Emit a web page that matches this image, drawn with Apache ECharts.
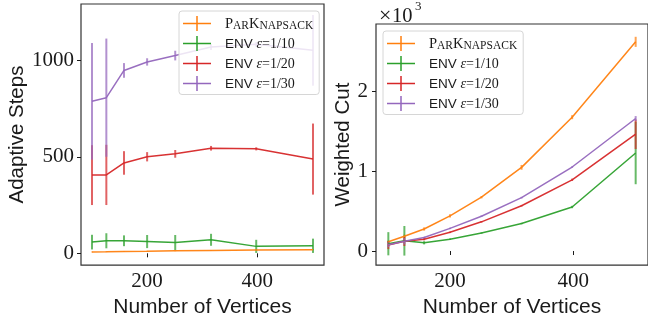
<!DOCTYPE html>
<html>
<head>
<meta charset="utf-8">
<script src="https://cdn.jsdelivr.net/npm/echarts@6/dist/echarts.min.js"></script>
<style>
html,body{margin:0;padding:0;background:#fff;}
#chart{width:648px;height:323px;}
</style>
</head>
<body>
<div id="chart"></div>
<script>
// ---- data ----
const xVals = [100, 126, 158, 200, 251, 316, 398, 501];
const seriesNames = ['ParKnapsack', 'ENV ε=1/10', 'ENV ε=1/20', 'ENV ε=1/30'];
const seriesColors = ['#ff7f0e', '#2ca02c', '#d62728', '#9467bd'];

// Adaptive Steps (left panel)
const stepsPark    = [7, 8, 10, 11, 13, 15, 17, 19];
const stepsParkErr = [2, 2, 2, 2, 2, 2, 2, 2];
const steps10      = [58, 65, 65, 61, 56, 70, 36, 39];
const steps10Err   = [38, 39, 28, 34, 39, 31, 34, 37];
const steps20      = [405, 406, 468, 500, 515, 544, 541, 488];
const steps20Err   = [155, 156, 61, 24, 20, 12, 8, 184];
const steps30      = [787, 806, 947, 991, 1024, 1068, 1082, 1051];
const steps30Err   = [302, 306, 38, 19, 25, 15, 12, 183];

// Weighted Cut (right panel)
const cutPark    = [116, 185, 275, 439, 673, 1046, 1673, 2615];
const cutParkErr = [15, 20, 20, 20, 15, 30, 25, 63];
const cut10      = [91, 128, 103, 148, 226, 344, 550, 1226];
const cut10Err   = [145, 185, 20, 10, 10, 10, 15, 391];
const cut20      = [74, 123, 148, 234, 365, 566, 890, 1460];
const cut20Err   = [50, 60, 15, 10, 10, 10, 15, 185];
const cut30      = [79, 123, 169, 283, 435, 667, 1050, 1657];
const cut30Err   = [30, 40, 10, 10, 10, 10, 10, 30];

// ticks
const xTicks = [200, 400];
const stepsTicks = [0, 500, 1000];
const cutTicks = [0, 1000, 2000];

// ---- styling ----
const TXT = '#1a1a1a';
const SERIF = 'Liberation Serif';
const SANS = 'Liberation Sans';

const leftVals = [[stepsPark, stepsParkErr], [steps10, steps10Err], [steps20, steps20Err], [steps30, steps30Err]];
const rightVals = [[cutPark, cutParkErr], [cut10, cut10Err], [cut20, cut20Err], [cut30, cut30Err]];

function errRenderer(color) {
  return function (params, api) {
    const x = api.value(0), lo = api.value(1), hi = api.value(2);
    const p1 = api.coord([x, lo]);
    const p2 = api.coord([x, hi]);
    return {
      type: 'line',
      shape: { x1: p1[0], y1: p1[1], x2: p2[0], y2: p2[1] },
      style: { stroke: color, lineWidth: 2, opacity: 0.72 }
    };
  };
}

const series = [];
function addPanel(vals, idx) {
  vals.forEach(function (pair, k) {
    const v = pair[0], e = pair[1];
    series.push({
      type: 'line', name: seriesNames[k],
      xAxisIndex: idx, yAxisIndex: idx,
      data: xVals.map(function (x, i) { return [x, v[i]]; }),
      symbol: 'none',
      lineStyle: { color: seriesColors[k], width: 1.5, opacity: 0.95 },
      itemStyle: { color: seriesColors[k] },
      animation: false
    });
    series.push({
      type: 'custom', name: 'err' + idx + '_' + k,
      xAxisIndex: idx, yAxisIndex: idx,
      data: xVals.map(function (x, i) { return [x, v[i] - e[i], v[i] + e[i]]; }),
      encode: { x: 0, y: [1, 2] },
      renderItem: errRenderer(seriesColors[k]),
      clip: true,
      animation: false
    });
  });
}
addPanel(leftVals, 0);
addPanel(rightVals, 1);

const legendRich = {
  g: { width: 9 },
  big: { fontFamily: SERIF, fontSize: 14.5, color: TXT, lineHeight: 16, verticalAlign: 'bottom' },
  sm: { fontFamily: SERIF, fontSize: 11.5, color: TXT, lineHeight: 14, verticalAlign: 'bottom' },
  sans: { fontFamily: SANS, fontSize: 13.5, color: TXT, lineHeight: 16, verticalAlign: 'bottom' },
  eps: { fontFamily: SERIF, fontSize: 14, fontStyle: 'italic', color: TXT, lineHeight: 16, verticalAlign: 'bottom' },
  num: { fontFamily: SERIF, fontSize: 14, color: TXT, lineHeight: 16, verticalAlign: 'bottom' }
};
function legendFormatter(name) {
  if (name === 'ParKnapsack') {
    return '{g|}{big|P}{sm|AR}{big|K}{sm|NAPSACK}';
  }
  const frac = name.split('=')[1];
  return '{g|}{sans|ENV }{eps|ε}{num|=' + frac + '}';
}
const legendIcon = 'path://M0,6.75 H28 V8.25 H0 Z M13.25,0 H14.75 V15 H13.25 Z';
function makeLegend(left, top) {
  return {
    data: seriesNames.slice(),
    orient: 'vertical',
    left: left, top: top,
    icon: legendIcon,
    itemWidth: 28, itemHeight: 15,
    itemGap: 4.5,
    padding: [5, 6, 3, 4],
    backgroundColor: 'rgba(255,255,255,0.82)',
    borderColor: '#d6d6d6', borderWidth: 1, borderRadius: 3,
    selectedMode: false,
    formatter: legendFormatter,
    textStyle: { rich: legendRich }
  };
}

function xAxisDef(idx) {
  return {
    gridIndex: idx, type: 'value', min: 80, max: 521,
    axisLine: { show: false }, splitLine: { show: false },
    axisTick: { show: true, customValues: xTicks, length: 4, lineStyle: { color: TXT, width: 1 } },
    axisLabel: { customValues: xTicks, fontFamily: SERIF, fontSize: 21, color: TXT, margin: 6 },
    name: 'Number of Vertices', nameLocation: 'middle', nameGap: 28,
    nameTextStyle: { fontFamily: SANS, fontSize: 21, color: TXT }
  };
}

const option = {
  animation: false,
  backgroundColor: '#fff',
  grid: [
    { left: 81, top: 4, width: 243, height: 265, show: true, borderColor: '#333', borderWidth: 1.2, containLabel: false },
    { left: 376, top: 24, width: 276, height: 245, show: true, borderColor: '#333', borderWidth: 1.2, containLabel: false }
  ],
  legend: [makeLegend(179, 11), makeLegend(383, 31)],
  xAxis: [xAxisDef(0), xAxisDef(1)],
  yAxis: [
    {
      gridIndex: 0, type: 'value', min: -61, max: 1291,
      axisLine: { show: false }, splitLine: { show: false },
      axisTick: { show: true, customValues: stepsTicks, length: 4, lineStyle: { color: TXT, width: 1 } },
      axisLabel: { customValues: stepsTicks, fontFamily: SERIF, fontSize: 21, color: TXT, margin: 7,
        formatter: function (v) { return String(v); } },
      name: 'Adaptive Steps', nameLocation: 'middle', nameRotate: 90, nameGap: 50,
      nameTextStyle: { fontFamily: SANS, fontSize: 20.5, color: TXT }
    },
    {
      gridIndex: 1, type: 'value', min: -176, max: 2838,
      axisLine: { show: false }, splitLine: { show: false },
      axisTick: { show: true, customValues: cutTicks, length: 4, lineStyle: { color: TXT, width: 1 } },
      axisLabel: { customValues: cutTicks, fontFamily: SERIF, fontSize: 21, color: TXT, margin: 8,
        formatter: function (v) { return String(Math.round(v / 1000)); } },
      name: 'Weighted Cut', nameLocation: 'middle', nameRotate: 90, nameGap: 22,
      nameTextStyle: { fontFamily: SANS, fontSize: 20.5, color: TXT }
    }
  ],
  graphic: [
    { type: 'text', left: 379, top: 5, style: { text: '×', fontFamily: SERIF, fontSize: 22, fill: TXT } },
    { type: 'text', left: 392, top: 6, style: { text: '10', fontFamily: SERIF, fontSize: 20.5, fill: TXT } },
    { type: 'text', left: 415, top: 0, style: { text: '3', fontFamily: SERIF, fontSize: 13, fill: TXT } }
  ],
  series: series
};

const chart = echarts.init(document.getElementById('chart'), null, { renderer: 'canvas' });
chart.setOption(option);
</script>
</body>
</html>
